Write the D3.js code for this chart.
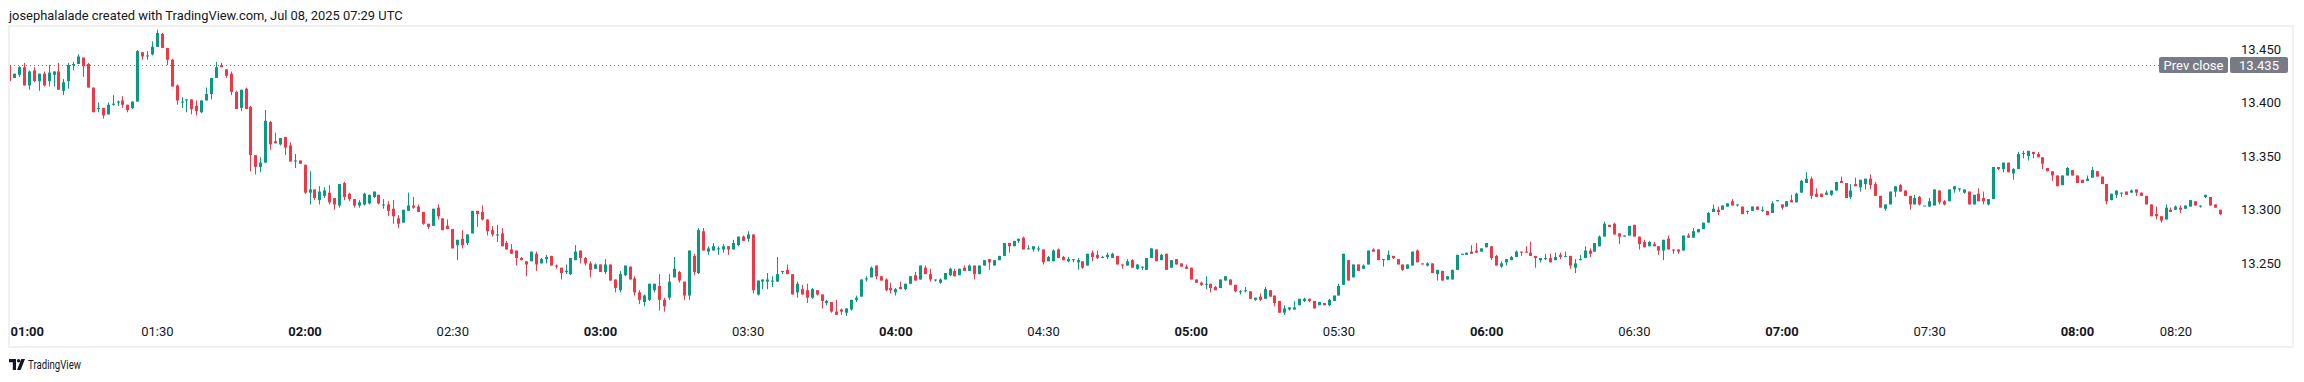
<!DOCTYPE html>
<html>
<head>
<meta charset="utf-8">
<script src="https://cdn.jsdelivr.net/npm/d3@7"></script>
<style>
  body { margin: 0; background: #fff; }
  svg text { font-family: Roboto, "Liberation Sans", sans-serif; }
</style>
</head>
<body>
<script>
// 1-minute candles from 01:00
var opens = [
  13.435, 13.423, 13.426, 13.433, 13.416, 13.430, 13.420, 13.427, 13.420, 13.426,
  13.429, 13.411, 13.420, 13.435, 13.436, 13.442, 13.436, 13.414, 13.394, 13.395,
  13.389, 13.398, 13.400, 13.402, 13.398, 13.395, 13.401, 13.447, 13.444, 13.445,
  13.452, 13.464, 13.451, 13.440, 13.416, 13.400, 13.402, 13.403, 13.397, 13.391,
  13.402, 13.408, 13.423, 13.435, 13.431, 13.427, 13.410, 13.395, 13.413, 13.396,
  13.351, 13.340, 13.344, 13.382, 13.364, 13.361, 13.368, 13.360, 13.345, 13.346,
  13.342, 13.316, 13.319, 13.309, 13.313, 13.316, 13.311, 13.304, 13.325, 13.315,
  13.310, 13.304, 13.305, 13.306, 13.312, 13.314, 13.304, 13.305, 13.301, 13.292,
  13.288, 13.299, 13.304, 13.303, 13.298, 13.287, 13.285, 13.302, 13.292, 13.285,
  13.282, 13.267, 13.273, 13.269, 13.278, 13.299, 13.298, 13.291, 13.281, 13.276,
  13.278, 13.269, 13.263, 13.262, 13.255, 13.252, 13.252, 13.259, 13.250, 13.254,
  13.257, 13.248, 13.246, 13.242, 13.240, 13.253, 13.262, 13.255, 13.250, 13.245,
  13.249, 13.242, 13.249, 13.235, 13.225, 13.239, 13.247, 13.236, 13.223, 13.214,
  13.216, 13.225, 13.229, 13.216, 13.218, 13.237, 13.242, 13.233, 13.220, 13.257,
  13.241, 13.280, 13.261, 13.262, 13.263, 13.263, 13.266, 13.263, 13.267, 13.275,
  13.273, 13.277, 13.221, 13.233, 13.233, 13.233, 13.233, 13.242, 13.244, 13.240,
  13.223, 13.226, 13.225, 13.218, 13.225, 13.221, 13.213, 13.214, 13.205, 13.207,
  13.204, 13.207, 13.216, 13.219, 13.235, 13.237, 13.248, 13.238, 13.235, 13.227,
  13.223, 13.228, 13.226, 13.231, 13.239, 13.235, 13.246, 13.240, 13.234, 13.232,
  13.235, 13.239, 13.243, 13.239, 13.246, 13.243, 13.248, 13.240, 13.248, 13.254,
  13.248, 13.253, 13.257, 13.269, 13.266, 13.271, 13.274, 13.264, 13.263, 13.263,
  13.263, 13.252, 13.252, 13.263, 13.256, 13.252, 13.253, 13.251, 13.252, 13.248,
  13.260, 13.258, 13.256, 13.256, 13.255, 13.257, 13.249, 13.248, 13.253, 13.245,
  13.246, 13.244, 13.255, 13.263, 13.253, 13.259, 13.246, 13.254, 13.250, 13.247,
  13.246, 13.235, 13.232, 13.231, 13.231, 13.228, 13.227, 13.234, 13.235, 13.230,
  13.224, 13.224, 13.224, 13.216, 13.219, 13.217, 13.225, 13.220, 13.215, 13.204,
  13.207, 13.207, 13.211, 13.215, 13.217, 13.215, 13.211, 13.213, 13.211, 13.215,
  13.220, 13.230, 13.253, 13.237, 13.249, 13.245, 13.249, 13.263, 13.263, 13.253,
  13.253, 13.257, 13.254, 13.249, 13.245, 13.248, 13.262, 13.250, 13.248, 13.250,
  13.240, 13.243, 13.235, 13.235, 13.244, 13.258, 13.258, 13.261, 13.262, 13.261,
  13.265, 13.266, 13.257, 13.247, 13.251, 13.253, 13.256, 13.261, 13.261, 13.260,
  13.257, 13.253, 13.255, 13.255, 13.253, 13.258, 13.257, 13.257, 13.246, 13.253,
  13.255, 13.262, 13.261, 13.266, 13.275, 13.286, 13.287, 13.278, 13.275, 13.276,
  13.286, 13.275, 13.270, 13.266, 13.268, 13.266, 13.262, 13.273, 13.263, 13.263,
  13.262, 13.276, 13.274, 13.279, 13.282, 13.288, 13.298, 13.300, 13.300, 13.303,
  13.308, 13.305, 13.303, 13.299, 13.299, 13.303, 13.300, 13.299, 13.297, 13.308,
  13.305, 13.303, 13.309, 13.307, 13.316, 13.325, 13.329, 13.315, 13.315, 13.314,
  13.314, 13.318, 13.327, 13.325, 13.312, 13.324, 13.321, 13.324, 13.329, 13.324,
  13.313, 13.301, 13.305, 13.317, 13.323, 13.318, 13.313, 13.305, 13.312, 13.304,
  13.303, 13.304, 13.318, 13.308, 13.308, 13.319, 13.319, 13.316, 13.317, 13.305,
  13.315, 13.311, 13.305, 13.310, 13.340, 13.338, 13.344, 13.334, 13.338, 13.353,
  13.350, 13.354, 13.352, 13.349, 13.339, 13.336, 13.332, 13.323, 13.332, 13.337,
  13.332, 13.328, 13.327, 13.330, 13.336, 13.331, 13.324, 13.309, 13.314, 13.315,
  13.317, 13.316, 13.319, 13.316, 13.313, 13.305, 13.296, 13.294, 13.291, 13.300,
  13.300, 13.302, 13.301, 13.303, 13.308, 13.303, 13.312, 13.312, 13.305, 13.300
]
var highs = [
  13.435, 13.427, 13.434, 13.437, 13.430, 13.433, 13.427, 13.429, 13.435, 13.429,
  13.437, 13.422, 13.437, 13.438, 13.445, 13.442, 13.437, 13.414, 13.400, 13.395,
  13.400, 13.407, 13.402, 13.406, 13.398, 13.401, 13.449, 13.447, 13.448, 13.457,
  13.468, 13.465, 13.451, 13.441, 13.417, 13.405, 13.403, 13.403, 13.402, 13.402,
  13.414, 13.423, 13.438, 13.437, 13.431, 13.429, 13.411, 13.412, 13.414, 13.397,
  13.351, 13.349, 13.393, 13.383, 13.372, 13.367, 13.368, 13.363, 13.352, 13.346,
  13.342, 13.336, 13.319, 13.322, 13.321, 13.323, 13.311, 13.324, 13.326, 13.316,
  13.310, 13.309, 13.316, 13.314, 13.317, 13.314, 13.310, 13.308, 13.309, 13.295,
  13.300, 13.316, 13.312, 13.305, 13.298, 13.287, 13.301, 13.305, 13.292, 13.291,
  13.282, 13.272, 13.281, 13.277, 13.299, 13.299, 13.304, 13.291, 13.285, 13.286,
  13.283, 13.271, 13.268, 13.262, 13.256, 13.252, 13.261, 13.261, 13.255, 13.258,
  13.257, 13.249, 13.246, 13.249, 13.255, 13.267, 13.262, 13.256, 13.252, 13.250,
  13.249, 13.254, 13.249, 13.235, 13.243, 13.248, 13.247, 13.238, 13.225, 13.221,
  13.231, 13.231, 13.240, 13.218, 13.240, 13.256, 13.243, 13.233, 13.262, 13.259,
  13.283, 13.283, 13.266, 13.269, 13.266, 13.268, 13.266, 13.272, 13.275, 13.276,
  13.280, 13.277, 13.234, 13.235, 13.241, 13.238, 13.256, 13.243, 13.249, 13.240,
  13.233, 13.230, 13.231, 13.227, 13.225, 13.221, 13.216, 13.214, 13.216, 13.208,
  13.208, 13.216, 13.220, 13.235, 13.238, 13.247, 13.248, 13.238, 13.236, 13.232,
  13.227, 13.233, 13.231, 13.238, 13.242, 13.248, 13.248, 13.245, 13.235, 13.236,
  13.241, 13.246, 13.245, 13.245, 13.248, 13.249, 13.248, 13.248, 13.253, 13.254,
  13.253, 13.257, 13.269, 13.269, 13.271, 13.273, 13.275, 13.267, 13.266, 13.266,
  13.263, 13.257, 13.263, 13.264, 13.257, 13.256, 13.254, 13.255, 13.252, 13.259,
  13.262, 13.262, 13.257, 13.260, 13.260, 13.257, 13.249, 13.254, 13.254, 13.249,
  13.247, 13.255, 13.264, 13.263, 13.259, 13.259, 13.253, 13.254, 13.250, 13.249,
  13.246, 13.235, 13.233, 13.238, 13.231, 13.229, 13.235, 13.238, 13.235, 13.230,
  13.225, 13.228, 13.224, 13.218, 13.222, 13.228, 13.225, 13.220, 13.215, 13.211,
  13.209, 13.215, 13.217, 13.218, 13.217, 13.215, 13.214, 13.213, 13.217, 13.220,
  13.231, 13.259, 13.253, 13.249, 13.249, 13.249, 13.262, 13.264, 13.263, 13.254,
  13.262, 13.257, 13.254, 13.249, 13.249, 13.261, 13.263, 13.250, 13.251, 13.250,
  13.244, 13.243, 13.238, 13.244, 13.258, 13.259, 13.260, 13.267, 13.269, 13.264,
  13.269, 13.266, 13.258, 13.252, 13.254, 13.257, 13.262, 13.261, 13.266, 13.270,
  13.257, 13.255, 13.259, 13.259, 13.260, 13.260, 13.261, 13.257, 13.254, 13.258,
  13.266, 13.264, 13.269, 13.276, 13.289, 13.286, 13.288, 13.278, 13.276, 13.285,
  13.286, 13.275, 13.272, 13.271, 13.270, 13.266, 13.272, 13.276, 13.263, 13.263,
  13.276, 13.278, 13.283, 13.282, 13.288, 13.298, 13.305, 13.303, 13.304, 13.306,
  13.310, 13.305, 13.303, 13.299, 13.303, 13.303, 13.303, 13.299, 13.308, 13.309,
  13.305, 13.308, 13.314, 13.316, 13.328, 13.335, 13.331, 13.320, 13.315, 13.318,
  13.318, 13.326, 13.331, 13.325, 13.324, 13.330, 13.328, 13.329, 13.333, 13.326,
  13.313, 13.305, 13.317, 13.322, 13.324, 13.318, 13.313, 13.314, 13.313, 13.304,
  13.311, 13.319, 13.318, 13.309, 13.319, 13.322, 13.320, 13.319, 13.317, 13.314,
  13.320, 13.317, 13.310, 13.340, 13.340, 13.344, 13.344, 13.339, 13.354, 13.355,
  13.355, 13.354, 13.354, 13.349, 13.339, 13.336, 13.332, 13.332, 13.340, 13.337,
  13.332, 13.328, 13.332, 13.340, 13.336, 13.331, 13.324, 13.315, 13.318, 13.316,
  13.317, 13.319, 13.319, 13.316, 13.313, 13.305, 13.303, 13.294, 13.305, 13.302,
  13.304, 13.304, 13.304, 13.309, 13.308, 13.304, 13.314, 13.312, 13.305, 13.300
]
var lows = [
  13.420, 13.423, 13.424, 13.416, 13.412, 13.419, 13.411, 13.415, 13.415, 13.415,
  13.412, 13.407, 13.413, 13.430, 13.436, 13.424, 13.414, 13.391, 13.391, 13.385,
  13.389, 13.397, 13.397, 13.395, 13.391, 13.394, 13.401, 13.440, 13.440, 13.444,
  13.452, 13.451, 13.435, 13.415, 13.398, 13.395, 13.391, 13.389, 13.388, 13.390,
  13.402, 13.403, 13.423, 13.433, 13.423, 13.407, 13.394, 13.392, 13.394, 13.336,
  13.333, 13.335, 13.344, 13.356, 13.362, 13.360, 13.351, 13.345, 13.339, 13.343,
  13.315, 13.305, 13.309, 13.305, 13.311, 13.305, 13.300, 13.302, 13.309, 13.308,
  13.302, 13.302, 13.304, 13.305, 13.311, 13.305, 13.301, 13.294, 13.287, 13.283,
  13.288, 13.299, 13.301, 13.298, 13.286, 13.282, 13.285, 13.291, 13.281, 13.282,
  13.264, 13.253, 13.264, 13.267, 13.278, 13.284, 13.290, 13.276, 13.275, 13.270,
  13.266, 13.263, 13.259, 13.248, 13.253, 13.238, 13.252, 13.243, 13.250, 13.250,
  13.248, 13.245, 13.235, 13.240, 13.239, 13.253, 13.250, 13.248, 13.237, 13.245,
  13.242, 13.240, 13.234, 13.223, 13.223, 13.238, 13.235, 13.220, 13.212, 13.210,
  13.215, 13.223, 13.206, 13.205, 13.216, 13.237, 13.232, 13.216, 13.216, 13.239,
  13.240, 13.262, 13.258, 13.262, 13.258, 13.260, 13.258, 13.263, 13.266, 13.271,
  13.270, 13.222, 13.220, 13.226, 13.226, 13.228, 13.233, 13.240, 13.240, 13.221,
  13.218, 13.221, 13.213, 13.217, 13.220, 13.208, 13.211, 13.204, 13.202, 13.202,
  13.201, 13.206, 13.214, 13.219, 13.233, 13.237, 13.235, 13.234, 13.224, 13.222,
  13.220, 13.226, 13.225, 13.231, 13.234, 13.235, 13.240, 13.233, 13.233, 13.231,
  13.235, 13.238, 13.238, 13.239, 13.243, 13.243, 13.235, 13.240, 13.248, 13.244,
  13.248, 13.253, 13.257, 13.260, 13.266, 13.269, 13.263, 13.263, 13.261, 13.261,
  13.249, 13.252, 13.252, 13.255, 13.253, 13.251, 13.251, 13.244, 13.245, 13.248,
  13.252, 13.254, 13.255, 13.254, 13.255, 13.249, 13.245, 13.248, 13.246, 13.244,
  13.244, 13.244, 13.255, 13.252, 13.253, 13.244, 13.246, 13.249, 13.247, 13.245,
  13.235, 13.232, 13.229, 13.226, 13.223, 13.225, 13.227, 13.234, 13.230, 13.223,
  13.221, 13.223, 13.217, 13.215, 13.215, 13.217, 13.219, 13.210, 13.204, 13.202,
  13.206, 13.207, 13.211, 13.214, 13.214, 13.208, 13.211, 13.211, 13.210, 13.215,
  13.220, 13.230, 13.234, 13.237, 13.243, 13.245, 13.249, 13.261, 13.253, 13.247,
  13.253, 13.254, 13.249, 13.243, 13.245, 13.248, 13.251, 13.249, 13.247, 13.241,
  13.234, 13.234, 13.235, 13.235, 13.244, 13.258, 13.258, 13.259, 13.260, 13.261,
  13.265, 13.253, 13.248, 13.246, 13.248, 13.253, 13.256, 13.257, 13.260, 13.257,
  13.246, 13.251, 13.253, 13.251, 13.253, 13.254, 13.257, 13.245, 13.241, 13.253,
  13.255, 13.256, 13.261, 13.266, 13.275, 13.284, 13.277, 13.268, 13.275, 13.276,
  13.275, 13.263, 13.265, 13.266, 13.266, 13.258, 13.253, 13.263, 13.259, 13.259,
  13.262, 13.274, 13.274, 13.279, 13.282, 13.288, 13.298, 13.295, 13.300, 13.303,
  13.304, 13.303, 13.296, 13.296, 13.299, 13.300, 13.298, 13.295, 13.297, 13.308,
  13.300, 13.303, 13.307, 13.307, 13.316, 13.325, 13.310, 13.312, 13.312, 13.314,
  13.313, 13.318, 13.325, 13.311, 13.310, 13.322, 13.317, 13.319, 13.319, 13.313,
  13.302, 13.299, 13.305, 13.312, 13.317, 13.313, 13.300, 13.305, 13.304, 13.304,
  13.303, 13.304, 13.305, 13.304, 13.308, 13.316, 13.317, 13.315, 13.305, 13.305,
  13.308, 13.305, 13.304, 13.310, 13.337, 13.335, 13.335, 13.328, 13.338, 13.348,
  13.346, 13.348, 13.349, 13.338, 13.336, 13.327, 13.322, 13.323, 13.332, 13.332,
  13.325, 13.325, 13.327, 13.330, 13.331, 13.324, 13.305, 13.309, 13.311, 13.312,
  13.314, 13.316, 13.313, 13.313, 13.305, 13.294, 13.291, 13.288, 13.291, 13.298,
  13.300, 13.297, 13.301, 13.303, 13.304, 13.302, 13.311, 13.304, 13.302, 13.295
]
var closes = [
  13.420, 13.427, 13.433, 13.416, 13.429, 13.420, 13.427, 13.416, 13.428, 13.429,
  13.412, 13.419, 13.435, 13.436, 13.443, 13.434, 13.414, 13.391, 13.395, 13.388,
  13.398, 13.399, 13.401, 13.398, 13.393, 13.401, 13.448, 13.443, 13.444, 13.452,
  13.465, 13.451, 13.440, 13.415, 13.402, 13.401, 13.403, 13.394, 13.392, 13.402,
  13.408, 13.423, 13.433, 13.433, 13.425, 13.410, 13.394, 13.412, 13.394, 13.351,
  13.340, 13.344, 13.383, 13.361, 13.362, 13.367, 13.358, 13.345, 13.346, 13.343,
  13.316, 13.319, 13.311, 13.317, 13.318, 13.307, 13.305, 13.324, 13.312, 13.310,
  13.304, 13.307, 13.315, 13.314, 13.317, 13.306, 13.305, 13.299, 13.294, 13.287,
  13.300, 13.304, 13.302, 13.298, 13.287, 13.284, 13.301, 13.294, 13.281, 13.282,
  13.264, 13.272, 13.267, 13.277, 13.299, 13.296, 13.291, 13.280, 13.277, 13.277,
  13.266, 13.263, 13.259, 13.255, 13.253, 13.249, 13.261, 13.249, 13.254, 13.256,
  13.248, 13.247, 13.241, 13.243, 13.255, 13.261, 13.255, 13.250, 13.244, 13.249,
  13.242, 13.249, 13.234, 13.227, 13.240, 13.248, 13.235, 13.223, 13.216, 13.220,
  13.231, 13.231, 13.216, 13.210, 13.233, 13.245, 13.234, 13.220, 13.262, 13.242,
  13.281, 13.262, 13.264, 13.266, 13.264, 13.266, 13.263, 13.269, 13.275, 13.271,
  13.277, 13.225, 13.234, 13.235, 13.235, 13.234, 13.240, 13.243, 13.240, 13.221,
  13.231, 13.221, 13.218, 13.226, 13.221, 13.215, 13.215, 13.205, 13.202, 13.205,
  13.208, 13.216, 13.218, 13.235, 13.236, 13.246, 13.238, 13.234, 13.225, 13.225,
  13.226, 13.226, 13.231, 13.238, 13.234, 13.248, 13.240, 13.235, 13.235, 13.235,
  13.241, 13.245, 13.238, 13.245, 13.243, 13.248, 13.240, 13.248, 13.253, 13.251,
  13.253, 13.257, 13.269, 13.266, 13.271, 13.273, 13.263, 13.264, 13.266, 13.264,
  13.251, 13.256, 13.262, 13.255, 13.253, 13.254, 13.254, 13.253, 13.246, 13.259,
  13.256, 13.255, 13.256, 13.258, 13.259, 13.249, 13.248, 13.252, 13.246, 13.249,
  13.247, 13.255, 13.264, 13.252, 13.258, 13.244, 13.253, 13.249, 13.247, 13.245,
  13.235, 13.232, 13.230, 13.231, 13.227, 13.225, 13.235, 13.238, 13.230, 13.224,
  13.224, 13.225, 13.217, 13.218, 13.216, 13.226, 13.219, 13.213, 13.204, 13.208,
  13.209, 13.209, 13.217, 13.217, 13.215, 13.208, 13.214, 13.211, 13.216, 13.220,
  13.229, 13.259, 13.234, 13.249, 13.243, 13.248, 13.262, 13.261, 13.253, 13.254,
  13.258, 13.255, 13.249, 13.244, 13.249, 13.261, 13.251, 13.249, 13.250, 13.241,
  13.244, 13.234, 13.238, 13.244, 13.258, 13.259, 13.260, 13.259, 13.260, 13.264,
  13.269, 13.255, 13.248, 13.250, 13.254, 13.256, 13.261, 13.260, 13.260, 13.257,
  13.255, 13.255, 13.255, 13.251, 13.256, 13.256, 13.257, 13.248, 13.250, 13.254,
  13.262, 13.259, 13.269, 13.275, 13.287, 13.284, 13.277, 13.275, 13.276, 13.285,
  13.275, 13.268, 13.265, 13.270, 13.266, 13.262, 13.272, 13.263, 13.262, 13.261,
  13.276, 13.274, 13.280, 13.282, 13.288, 13.297, 13.301, 13.298, 13.304, 13.306,
  13.304, 13.305, 13.296, 13.299, 13.303, 13.300, 13.300, 13.295, 13.306, 13.309,
  13.302, 13.308, 13.307, 13.315, 13.327, 13.329, 13.313, 13.312, 13.312, 13.316,
  13.318, 13.326, 13.325, 13.311, 13.318, 13.322, 13.328, 13.329, 13.323, 13.313,
  13.302, 13.305, 13.317, 13.322, 13.317, 13.313, 13.305, 13.311, 13.305, 13.304,
  13.308, 13.319, 13.307, 13.305, 13.319, 13.322, 13.320, 13.319, 13.305, 13.314,
  13.308, 13.308, 13.310, 13.340, 13.338, 13.344, 13.335, 13.338, 13.352, 13.353,
  13.355, 13.352, 13.349, 13.343, 13.336, 13.332, 13.322, 13.332, 13.339, 13.332,
  13.325, 13.325, 13.329, 13.337, 13.331, 13.324, 13.308, 13.315, 13.318, 13.316,
  13.314, 13.318, 13.316, 13.313, 13.305, 13.294, 13.294, 13.290, 13.302, 13.298,
  13.303, 13.300, 13.304, 13.309, 13.304, 13.304, 13.314, 13.304, 13.302, 13.296
]

var timeLabels = ['01:00', '01:30', '02:00', '02:30', '03:00', '03:30', '04:00', '04:30',
  '05:00', '05:30', '06:00', '06:30', '07:00', '07:30', '08:00', '08:20']
var priceTicks = [13.25, 13.30, 13.35, 13.40, 13.45]
var prevClose = 13.435
var title = 'josephalalade created with TradingView.com, Jul 08, 2025 07:29 UTC'

var width = 2304
var height = 382
var upColor = '#089981'
var downColor = '#f23645'

var parseTime = d3.timeParse('%Y-%m-%d %H:%M')
var start = parseTime('2025-07-08 01:00')
var tickDates = timeLabels.map(function (s) { return parseTime('2025-07-08 ' + s) })

var x = d3.scaleTime()
  .domain([start, d3.timeMinute.offset(start, opens.length)])
  .range([9.2, 2224.6])
var y = d3.scaleLinear().domain([13.2, 13.45]).range([317, 49])

var svg = d3.select('body').append('svg')
  .attr('width', width)
  .attr('height', height)

svg.append('rect').attr('width', width).attr('height', height).attr('fill', '#fff')

// header text
svg.append('text')
  .attr('x', 9)
  .attr('y', 19.5)
  .attr('font-size', 12.9)
  .attr('fill', '#131722')
  .text(title)

// plot clip
svg.append('clipPath').attr('id', 'plotClip')
  .append('rect').attr('x', 10).attr('y', 27).attr('width', 2282).attr('height', 300)

var plot = svg.append('g').attr('clip-path', 'url(#plotClip)')

// prev close dotted line
plot.append('line')
  .attr('x1', 10).attr('x2', 2160)
  .attr('y1', Math.round(y(prevClose)) + 0.5)
  .attr('y2', Math.round(y(prevClose)) + 0.5)
  .attr('stroke', '#787b86')
  .attr('stroke-width', 1)
  .attr('stroke-dasharray', '1,3')

// candles
var candle = plot.selectAll('.candle')
  .data(d3.range(opens.length))
  .enter().append('g')
  .attr('class', 'candle')

function cx (i) { return Math.round(x(d3.timeMinute.offset(start, i))) }
function colorOf (i) { return closes[i] >= opens[i] ? upColor : downColor }

candle.append('line')
  .attr('x1', function (i) { return cx(i) + 0.5 })
  .attr('x2', function (i) { return cx(i) + 0.5 })
  .attr('y1', function (i) { return y(highs[i]) })
  .attr('y2', function (i) { return y(lows[i]) })
  .attr('stroke', colorOf)
  .attr('stroke-width', 1)

candle.append('rect')
  .attr('x', function (i) { return cx(i) - 1 })
  .attr('width', 3)
  .attr('y', function (i) { return y(Math.max(opens[i], closes[i])) })
  .attr('height', function (i) { return Math.max(1, Math.abs(y(opens[i]) - y(closes[i]))) })
  .attr('fill', colorOf)

// frame
svg.append('rect')
  .attr('x', 9).attr('y', 26)
  .attr('width', 2284).attr('height', 321)
  .attr('fill', 'none')
  .attr('stroke', '#f0f0f0')
  .attr('stroke-width', 2)

// price axis
var yAxis = d3.axisLeft(y)
  .tickValues(priceTicks)
  .tickSize(0)
  .tickPadding(0)
  .tickFormat(d3.format('.3f'))

var yG = svg.append('g')
  .attr('transform', 'translate(2281,0)')
  .call(yAxis)
yG.select('.domain').remove()
yG.selectAll('text')
  .attr('font-size', 13)
  .attr('font-family', 'Roboto, sans-serif')
  .attr('fill', '#131722')

// time axis
var xAxis = d3.axisBottom(x)
  .tickValues(tickDates)
  .tickSize(0)
  .tickPadding(0)
  .tickFormat(d3.timeFormat('%H:%M'))

var xG = svg.append('g')
  .attr('transform', 'translate(0,327)')
  .call(xAxis)
xG.select('.domain').remove()
xG.selectAll('text')
  .attr('font-size', 13)
  .attr('font-family', 'Roboto, sans-serif')
  .attr('fill', '#131722')
  .attr('font-weight', function (d) { return d.getMinutes() === 0 ? 700 : 400 })
xG.selectAll('text')
  .filter(function (d, i) { return i === 0 })
  .attr('text-anchor', 'start')
  .attr('x', 10 - x(start))

// prev close labels
var plY = Math.round(y(prevClose))
var labels = svg.append('g')
labels.append('rect')
  .attr('x', 2159).attr('y', plY - 8)
  .attr('width', 69).attr('height', 16)
  .attr('rx', 2)
  .attr('fill', '#787b86')
labels.append('rect')
  .attr('x', 2230).attr('y', plY - 8)
  .attr('width', 58).attr('height', 16)
  .attr('rx', 2)
  .attr('fill', '#787b86')
labels.append('text')
  .attr('x', 2193.5).attr('y', plY)
  .attr('dy', '0.35em')
  .attr('text-anchor', 'middle')
  .attr('font-size', 13)
  .attr('fill', '#fff')
  .text('Prev close')
labels.append('text')
  .attr('x', 2259).attr('y', plY)
  .attr('dy', '0.35em')
  .attr('text-anchor', 'middle')
  .attr('font-size', 13)
  .attr('fill', '#fff')
  .text(d3.format('.3f')(prevClose))

// footer logo
var logo = svg.append('g').attr('transform', 'translate(9,359)').attr('fill', '#131722')
logo.append('path').attr('d', 'M0 0 H7 V11 H3.8 V3.2 H0 Z')
logo.append('circle').attr('cx', 9.6).attr('cy', 1.7).attr('r', 1.7)
logo.append('path').attr('d', 'M12.3 0 H16 L11.6 11 H8 Z')
svg.append('text')
  .attr('x', 28).attr('y', 369)
  .attr('font-size', 13)
  .attr('textLength', 53)
  .attr('lengthAdjust', 'spacingAndGlyphs')
  .attr('fill', '#131722')
  .text('TradingView')
</script>
</body>
</html>
